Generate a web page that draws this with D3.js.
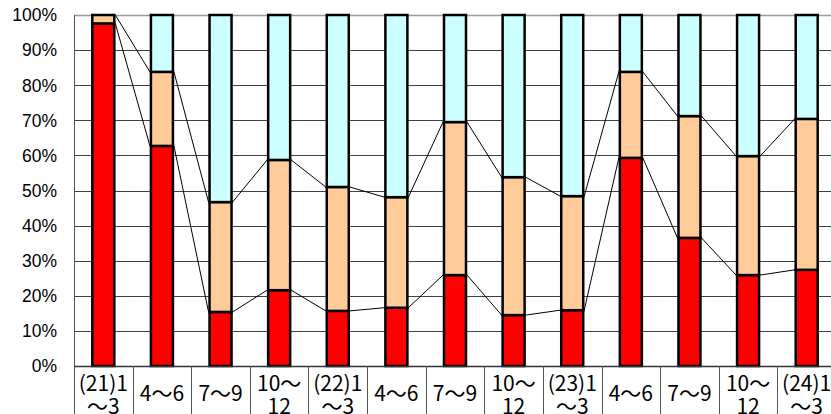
<!DOCTYPE html>
<html>
<head>
<meta charset="utf-8">
<script src="https://cdn.jsdelivr.net/npm/d3@7"></script>
<style>
html,body{margin:0;padding:0;background:#fff;overflow:hidden;}
svg{display:block;}
</style>
</head>
<body>
<svg id="chart" width="831" height="414"></svg>
<script>
// Data
const categories = [
  ["(21)1", "～3"], ["4～6"], ["7～9"], ["10～", "12"],
  ["(22)1", "～3"], ["4～6"], ["7～9"], ["10～", "12"],
  ["(23)1", "～3"], ["4～6"], ["7～9"], ["10～", "12"],
  ["(24)1", "～3"]
];
const redValues    = [97.6, 62.7, 15.4, 21.6, 15.7, 16.6, 25.9, 14.5, 15.9, 59.3, 36.5, 25.9, 27.4];
const orangeValues = [2.4, 21.1, 31.3, 37.1, 35.3, 31.5, 43.6, 39.3, 32.5, 24.5, 34.7, 33.9, 43.0];
const cyanValues   = redValues.map((r, i) => +(100 - r - orangeValues[i]).toFixed(1));
const yTicks = [0, 10, 20, 30, 40, 50, 60, 70, 80, 90, 100];
const colors = ["#FF0000", "#FFCC99", "#CCFFFF"];

const svg = d3.select("#chart");
const mLeft = 74, mRight = 836, mTop = 15, mBottom = 366;

const x = d3.scaleBand().domain(d3.range(categories.length)).range([mLeft, mRight]).paddingInner(0).paddingOuter(0);
const y = d3.scaleLinear().domain([0, 100]).range([mBottom, mTop]);
const barW = 22;

// gridlines
svg.append("g").selectAll("line").data(yTicks.filter(t => t > 0 && t < 100)).join("line")
  .attr("x1", mLeft).attr("x2", 831)
  .attr("y1", d => Math.round(y(d)) + 0.5).attr("y2", d => Math.round(y(d)) + 0.5)
  .attr("stroke", "#404040").attr("stroke-width", 1);
// top border
svg.append("line").attr("x1", mLeft).attr("x2", 831).attr("y1", Math.round(y(100)) + 0.5).attr("y2", Math.round(y(100)) + 0.5)
  .attr("stroke", "#999").attr("stroke-width", 1.5);
// left axis
svg.append("line").attr("x1", mLeft + 0.5).attr("x2", mLeft + 0.5).attr("y1", mTop).attr("y2", mBottom)
  .attr("stroke", "#555").attr("stroke-width", 1);

// y labels
svg.append("g").selectAll("text").data(yTicks).join("text")
  .attr("x", 57).attr("y", d => y(d)).attr("dy", "0.36em")
  .attr("text-anchor", "end")
  .attr("font-family", "Liberation Sans, Arial, sans-serif").attr("font-size", 17.5)
  .attr("fill", "#000")
  .text(d => d + "%");

// stacked
const rows = categories.map((c, i) => ({i, red: redValues[i], orange: orangeValues[i], cyan: cyanValues[i]}));
const stack = d3.stack().keys(["red", "orange", "cyan"])(rows);

const cx = i => x(i) + x.bandwidth() / 2;

svg.append("g").selectAll("g").data(stack).join("g")
  .attr("fill", (d, k) => colors[k])
  .selectAll("rect").data(d => d).join("rect")
  .attr("x", (d, i) => cx(i) - barW / 2)
  .attr("width", barW)
  .attr("y", d => y(d[1]))
  .attr("height", d => y(d[0]) - y(d[1]))
  .attr("stroke", "#000").attr("stroke-width", 2.5);

// series lines
[0, 1].forEach(k => {
  const s = stack[k];
  for (let i = 0; i < s.length - 1; i++) {
    svg.append("line")
      .attr("x1", cx(i) + barW / 2 + 1).attr("y1", y(s[i][1]))
      .attr("x2", cx(i + 1) - barW / 2 - 1).attr("y2", y(s[i + 1][1]))
      .attr("stroke", "#000").attr("stroke-width", 1);
  }
});

// bottom axis
svg.append("line").attr("x1", mLeft).attr("x2", 831).attr("y1", mBottom + 0.5).attr("y2", mBottom + 0.5)
  .attr("stroke", "#333").attr("stroke-width", 1.5);
// category separators
svg.append("g").selectAll("line").data(d3.range(categories.length + 1)).join("line")
  .attr("x1", i => Math.round(mLeft + i * x.bandwidth()) + 0.5)
  .attr("x2", i => Math.round(mLeft + i * x.bandwidth()) + 0.5)
  .attr("y1", mBottom).attr("y2", 414)
  .attr("stroke", "#555").attr("stroke-width", 1);

// x labels
const xl = svg.append("g").selectAll("text").data(categories).join("text")
  .attr("text-anchor", "middle")
  .attr("font-family", "Noto Sans CJK JP, sans-serif").attr("font-size", 21)
  .attr("fill", "#000");
xl.each(function(d, i) {
  const t = d3.select(this);
  if (d.length === 1) {
    t.append("tspan").attr("x", cx(i)).attr("y", 394).attr("dy", "0.35em").text(d[0]);
  } else {
    t.append("tspan").attr("x", cx(i)).attr("y", 384).attr("dy", "0.35em").text(d[0]);
    t.append("tspan").attr("x", cx(i)).attr("y", 407).attr("dy", "0.35em").text(d[1]);
  }
});
</script>
</body>
</html>
